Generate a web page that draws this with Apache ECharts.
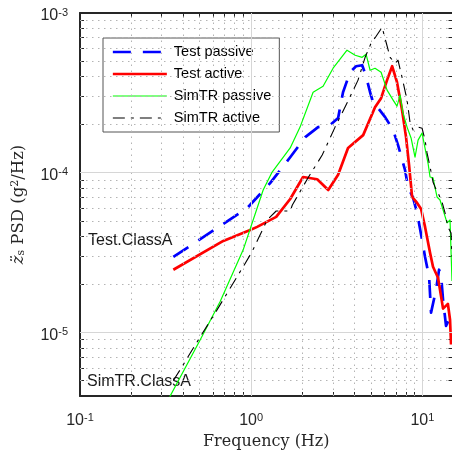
<!DOCTYPE html>
<html><head><meta charset="utf-8">
<script src="https://cdn.jsdelivr.net/npm/echarts@6/dist/echarts.min.js"></script>
<style>html,body{margin:0;padding:0;background:#fff}#c{width:452px;height:455px}</style>
</head><body><div id="c"></div>
<script>
// ---- data (Hz, g^2/Hz) ----
const testPassiveFreq = [0.351, 0.947, 1.29, 1.69, 2.07, 2.46, 2.89, 3.22, 3.44, 3.78, 4.10, 4.45, 4.69, 4.95, 5.23, 5.51, 6.06, 6.75, 7.21, 7.92, 8.26, 8.83, 9.32, 9.96, 10.37, 10.95, 11.24, 11.54, 12.02, 12.52, 12.85, 13.21, 13.75, 14.1, 14.7];
const testPassivePsd  = [2.97e-5, 6.0e-5, 8.6e-5, 1.25e-4, 1.67e-4, 1.93e-4, 1.99e-4, 2.2e-4, 3.19e-4, 4.26e-4, 4.64e-4, 4.71e-4, 4.02e-4, 3.19e-4, 2.61e-4, 2.54e-4, 2.23e-4, 1.85e-4, 1.49e-4, 1.04e-4, 8.1e-5, 6.95e-5, 5.6e-5, 3.8e-5, 2.97e-5, 2.23e-5, 1.33e-5, 1.33e-5, 1.85e-5, 2.47e-5, 2.3e-5, 1.6e-5, 1.1e-5, 1.09e-5, 1.27e-5];

const testActiveFreq = [0.351, 0.687, 0.987, 1.084, 1.40, 1.69, 2.01, 2.43, 2.82, 3.22, 3.68, 4.51, 5.29, 5.74, 6.22, 6.66, 7.11, 7.61, 8.03, 8.36, 8.71, 9.32, 9.83, 10.37, 11.09, 11.54, 12.35, 13.21, 14.1, 14.51, 14.71];
const testActivePsd  = [2.47e-5, 3.74e-5, 4.38e-5, 4.58e-5, 5.29e-5, 6.85e-5, 9.4e-5, 9.1e-5, 7.8e-5, 9.7e-5, 1.43e-4, 1.72e-4, 2.57e-4, 2.93e-4, 3.80e-4, 4.64e-4, 3.69e-4, 2.47e-4, 1.67e-4, 1.12e-4, 7.05e-5, 6.47e-5, 5.93e-5, 4.58e-5, 3.15e-5, 2.58e-5, 2.2e-5, 1.41e-5, 1.51e-5, 1.2e-5, 8.4e-6];

const simPassiveFreq = [0.33, 0.504, 0.659, 0.898, 1.175, 1.326, 1.69, 1.93, 2.30, 2.63, 3.01, 3.63, 4.05, 4.45, 4.69, 4.95, 5.29, 5.74, 6.22, 6.75, 7.11, 7.41, 7.71, 8.14, 8.59, 9.06, 9.44, 9.96, 10.23, 10.79, 11.09, 11.54, 12.18, 12.68, 13.21, 13.94, 14.51, 14.9];
const simPassivePsd  = [3.85e-6, 9.0e-6, 1.56e-5, 3.29e-5, 7.8e-5, 1.01e-4, 1.43e-4, 1.93e-4, 3.19e-4, 3.48e-4, 4.51e-4, 5.85e-4, 5.44e-4, 5.28e-4, 5.52e-4, 4.38e-4, 4.51e-4, 4.26e-4, 3.29e-4, 2.85e-4, 2.61e-4, 3.06e-4, 2.36e-4, 1.93e-4, 1.65e-4, 1.25e-4, 1.60e-4, 1.77e-4, 1.82e-4, 1.15e-4, 9.4e-5, 9.3e-5, 7.05e-5, 6.75e-5, 5.85e-5, 4.85e-5, 5.06e-5, 2.1e-5];

const simActiveFreq = [0.351, 0.385, 0.484, 0.633, 0.898, 1.01, 1.24, 1.40, 1.69, 1.74, 2.15, 2.60, 3.09, 3.63, 4.21, 4.63, 5.02, 5.37, 5.82, 6.14, 6.48, 6.93, 7.21, 7.61, 8.14, 8.48, 8.83, 9.44, 9.96, 10.37, 10.65, 11.09, 11.54, 11.85, 12.35, 13.03, 13.57, 14.1, 14.71, 14.9];
const simActivePsd  = [5.0e-6, 5.85e-6, 8.75e-6, 1.39e-5, 2.58e-5, 3.19e-5, 5.06e-5, 5.76e-5, 5.76e-5, 6.28e-5, 9.3e-5, 1.29e-4, 1.93e-4, 2.73e-4, 3.80e-4, 5.28e-4, 6.47e-4, 7.15e-4, 8.14e-4, 6.56e-4, 5.28e-4, 4.85e-4, 5.06e-4, 3.96e-4, 2.85e-4, 2.05e-4, 1.85e-4, 1.93e-4, 1.90e-4, 1.60e-4, 1.33e-4, 1.09e-4, 8.75e-5, 8.15e-5, 7.47e-5, 6.56e-5, 5.6e-5, 4.58e-5, 4.2e-5, 3.0e-5];

const seriesNames = ['Test passive', 'Test active', 'SimTR passive', 'SimTR active'];
const annotations = ['Test.ClassA', 'SimTR.ClassA'];

// ---- axes ----
const xRange = [0.1, 15];
const yRange = [4e-6, 1e-3];
const xDecades = [0.1, 1, 10];
const yDecades = [1e-5, 1e-4, 1e-3];
const minorSteps = [2, 3, 4, 5, 6, 7, 8, 9];

function minorValues(decades, range) {
  const out = [];
  [decades[0] / 10].concat(decades).forEach(d => minorSteps.forEach(m => {
    const v = +(d * m).toPrecision(3);
    if (v > range[0] && v < range[1]) out.push(v);
  }));
  return out;
}
const xMinor = minorValues(xDecades, xRange);
const yMinor = minorValues(yDecades, yRange);
const xTicks = xDecades.concat(xMinor).sort((a, b) => a - b);
const yTicks = yDecades.concat(yMinor).sort((a, b) => a - b);

const zip = (a, b) => a.map((v, i) => [v, b[i]]);
const axisColor = '#262626';
const sans = "'Liberation Sans', Arial, sans-serif";
const serif = "'DejaVu Serif', serif";

function logLabel(v) {
  const e = Math.round(Math.log10(v));
  return '{b|10}{s|' + e + '}';
}
const labelRich = {
  b: { fontSize: 16, fontFamily: sans, color: axisColor, lineHeight: 18 },
  s: { fontSize: 11, fontFamily: sans, color: axisColor, lineHeight: 11, verticalAlign: 'top' }
};

function makeAxis(isX, pos, primary) {
  const ax = {
    type: 'log', logBase: 10,
    min: isX ? xRange[0] : yRange[0],
    max: isX ? xRange[1] : yRange[1],
    position: pos,
    axisLine: { show: true, onZero: false, lineStyle: { color: axisColor, width: 2 } },
    axisTick: { show: true, inside: true, length: 4, customValues: isX ? xTicks : yTicks,
                lineStyle: { color: axisColor, width: 1 } },
    minorTick: { show: false },
    splitLine: { show: false },
    minorSplitLine: { show: false },
    axisLabel: { show: false },
    silent: true
  };
  if (primary) {
    ax.axisLabel = {
      show: true, customValues: isX ? xDecades : yDecades, formatter: logLabel, rich: labelRich,
      margin: isX ? 16 : 12, padding: isX ? 0 : [6, 0, 0, 0]
    };
  }
  return ax;
}

const xAxes = [makeAxis(true, 'bottom', true), makeAxis(true, 'top', false)];
xAxes[0].name = 'Frequency (Hz)';
xAxes[0].nameLocation = 'middle';
xAxes[0].nameGap = 38;
xAxes[0].nameTextStyle = { fontFamily: serif, fontSize: 16, color: axisColor };

const yAxes = [makeAxis(false, 'left', true), makeAxis(false, 'right', false)];
yAxes[0].name = '{i|z\u0308}{sub|s} PSD (g{sup|2}/Hz)';
yAxes[0].nameLocation = 'middle';
yAxes[0].nameGap = 53;
yAxes[0].nameTextStyle = {
  fontFamily: serif, fontSize: 16.5, color: axisColor,
  rich: {
    i: { fontFamily: serif, fontSize: 16.5, fontStyle: 'italic', color: axisColor },
    sub: { fontFamily: serif, fontSize: 11, verticalAlign: 'bottom', color: axisColor },
    sup: { fontFamily: serif, fontSize: 11, verticalAlign: 'top', color: axisColor }
  }
};

// gridlines drawn as marker lines through the axis scales
const gridSeries = (name, lineStyle, xs, ys) => ({
  name, type: 'line', data: [[1, 1e-4]], showSymbol: false, symbol: 'none',
  lineStyle: { opacity: 0 }, z: 1, silent: true,
  markLine: {
    silent: true, symbol: ['none', 'none'], label: { show: false }, animation: false,
    lineStyle: lineStyle,
    emphasis: { disabled: true },
    data: xs.filter(v => v > xRange[0] && v < xRange[1]).map(v => [{ coord: [v, yRange[0]] }, { coord: [v, yRange[1]] }])
      .concat(ys.filter(v => v > yRange[0] && v < yRange[1]).map(v => [{ coord: [xRange[0], v] }, { coord: [xRange[1], v] }]))
  }
});

const styles = [
  { color: '#0000ff', width: 2.7, type: [18, 12] },
  { color: '#ff0000', width: 2.7, type: 'solid' },
  { color: '#00ff00', width: 1.2, type: 'solid' },
  { color: '#000000', width: 1.1, type: [12, 6, 3, 6] }
];
const dataSets = [
  zip(testPassiveFreq, testPassivePsd),
  zip(testActiveFreq, testActivePsd),
  zip(simPassiveFreq, simPassivePsd),
  zip(simActiveFreq, simActivePsd)
];

const option = {
  animation: false,
  backgroundColor: '#ffffff',
  grid: { left: 80, top: 13, width: 372.5, height: 383, outerBoundsMode: 'none', containLabel: false },
  xAxis: xAxes,
  yAxis: yAxes,
  legend: {
    orient: 'vertical', left: 103, top: 38,
    padding: [6.5, 8, 6.5, 8.5],
    itemWidth: 54, itemHeight: 14.5, itemGap: 7,
    backgroundColor: '#ffffff', borderColor: '#555555', borderWidth: 1, borderRadius: 0,
    textStyle: { fontFamily: sans, fontSize: 14.5, color: '#000000', padding: [0, 0, 0, 2] },
    itemStyle: { opacity: 0, borderWidth: 0 },
    selectedMode: false,
    data: seriesNames.map((n, i) => ({ name: n, lineStyle: { width: styles[i].width }, itemStyle: { opacity: 0, borderWidth: 0 } }))
  },
  graphic: [
    { type: 'text', x: 88, y: 241, z: 1, style: { text: annotations[0], fontFamily: sans, fontSize: 16, fill: '#1a1a1a', verticalAlign: 'middle', align: 'left' } },
    { type: 'text', x: 87, y: 381.5, z: 1, style: { text: annotations[1], fontFamily: sans, fontSize: 16, fill: '#1a1a1a', verticalAlign: 'middle', align: 'left' } }
  ],
  series: [
    gridSeries('minorGrid', { color: '#b4b4b4', width: 1, type: [1.5, 4.5] }, xMinor, yMinor),
    gridSeries('majorGrid', { color: '#d6d6d6', width: 1, type: 'solid' }, xDecades, yDecades)
  ].concat(seriesNames.map((n, i) => ({
    name: n, type: 'line', data: dataSets[i], symbol: 'none', showSymbol: false,
    xAxisIndex: 0, yAxisIndex: 0, z: 3 + i, silent: true, clip: true,
    lineStyle: { color: styles[i].color, width: styles[i].width, type: styles[i].type, join: 'round' },
    itemStyle: { color: styles[i].color }
  })))
};

const chart = echarts.init(document.getElementById('c'), null, { renderer: 'canvas' });
chart.setOption(option);
</script>
</body></html>
